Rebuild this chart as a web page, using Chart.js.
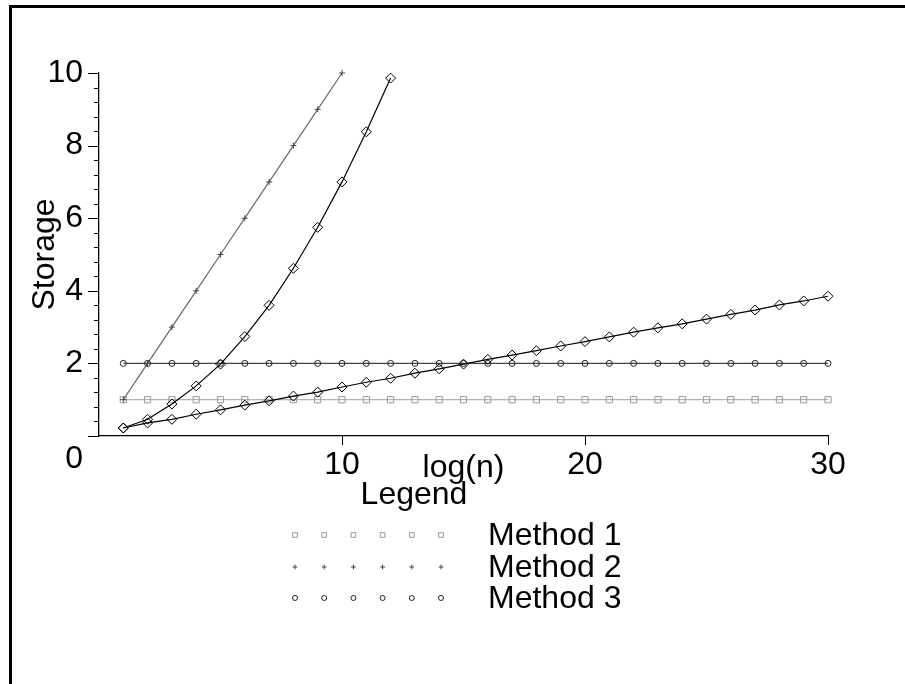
<!DOCTYPE html>
<html>
<head>
<meta charset="utf-8">
<script src="https://cdn.jsdelivr.net/npm/chart.js@4/dist/chart.umd.min.js"></script>
<style>
  html, body { margin: 0; padding: 0; background: #fff; }
  #frame { position: absolute; left: 9px; top: 5px; width: 900px; height: 690px; border-top: 3px solid #000; border-left: 3px solid #000; }
  #plot { position: absolute; left: 0; top: 0; }
</style>
</head>
<body>
<div id="frame"></div>
<canvas id="plot" width="905" height="684"></canvas>
<script>
// ── Storage vs log(n) ──
const FONT = "'Liberation Sans', Arial, sans-serif";

const xLong = [1,2,3,4,5,6,7,8,9,10,11,12,13,14,15,16,17,18,19,20,21,22,23,24,25,26,27,28,29,30];
const xTen = [1,2,3,4,5,6,7,8,9,10];
const xTwelve = [1,2,3,4,5,6,7,8,9,10,11,12];

const method1 = [1,1,1,1,1,1,1,1,1,1,1,1,1,1,1,1,1,1,1,1,1,1,1,1,1,1,1,1,1,1];
const method2 = [1,2,3,4,5,6,7,8,9,10];
const method3 = [2,2,2,2,2,2,2,2,2,2,2,2,2,2,2,2,2,2,2,2,2,2,2,2,2,2,2,2,2,2];
const steepCurve = [0.22,0.46,0.88,1.38,1.98,2.74,3.6,4.62,5.75,7.0,8.38,9.86];
const slowCurve = [0.22,0.36,0.46,0.6,0.72,0.85,0.97,1.1,1.21,1.35,1.48,1.59,1.73,1.85,1.98,2.11,2.23,2.35,2.48,2.6,2.73,2.86,2.98,3.09,3.22,3.35,3.47,3.61,3.72,3.85];

const yTicks = [0,2,4,6,8,10];
const xTicks = [10,20,30];
const legendNames = ['Method 1','Method 2','Method 3'];

const pts = (xs, ys) => xs.map((x, i) => ({ x, y: ys[i] }));

// tick marks, the lone "0" and the legend block are drawn by hand
const extras = {
  id: 'extras',
  afterDraw(chart) {
    const ctx = chart.ctx;
    const xs = chart.scales.x, ys = chart.scales.y;
    const left = chart.chartArea.left, bottom = chart.chartArea.bottom;
    ctx.save();
    ctx.strokeStyle = '#000';
    ctx.lineWidth = 1;
    ctx.beginPath();
    for (let v = 0; v <= 10.001; v += 0.4) {
      const y = Math.round(ys.getPixelForValue(v)) + 0.5;
      const major = Math.abs(v / 2 - Math.round(v / 2)) < 0.01;
      ctx.moveTo(left - (major ? 11 : 5), y);
      ctx.lineTo(left, y);
    }
    xTicks.forEach(v => {
      const x = Math.round(xs.getPixelForValue(v)) + 0.5;
      ctx.moveTo(x, bottom);
      ctx.lineTo(x, bottom + 9);
    });
    ctx.stroke();

    ctx.fillStyle = '#000';
    ctx.font = '32px ' + FONT;
    ctx.textBaseline = 'middle';
    ctx.textAlign = 'right';
    ctx.fillText('0', 83, 459);

    ctx.textAlign = 'center';
    ctx.fillText('Legend', 414, 495);

    ctx.textAlign = 'left';
    const rows = [535, 567, 598];
    chart.data.datasets.slice(0, 3).forEach((ds, i) => {
      ctx.strokeStyle = ds.pointBorderColor;
      ctx.fillStyle = 'rgba(0,0,0,0)';
      for (let k = 0; k < 6; k++) {
        Chart.helpers.drawPoint(ctx, {
          pointStyle: ds.pointStyle, radius: ds.legendRadius, rotation: 0, borderWidth: 1
        }, 295 + k * 29.2, rows[i]);
      }
      ctx.fillStyle = '#000';
      ctx.fillText(legendNames[i], 488, rows[i] + 1);
    });
    ctx.restore();
  }
};

new Chart(document.getElementById('plot'), {
  type: 'line',
  data: {
    datasets: [
      { label: legendNames[0], data: pts(xLong, method1), borderColor: '#b4b4b4', pointBorderColor: '#999',
        pointStyle: 'rect', pointRadius: 4.4, legendRadius: 3.3, order: 5 },
      { label: legendNames[1], data: pts(xTen, method2), borderColor: '#6a6a6a', pointBorderColor: '#444',
        pointStyle: 'cross', pointRadius: 3, legendRadius: 2.4, order: 4 },
      { label: legendNames[2], data: pts(xLong, method3), borderColor: '#444', pointBorderColor: '#222',
        pointStyle: 'circle', pointRadius: 3, legendRadius: 2.5, order: 3 },
      { label: 'Growth A', data: pts(xTwelve, steepCurve), borderColor: '#000', pointBorderColor: '#000',
        pointStyle: 'rectRot', pointRadius: 5, order: 1 },
      { label: 'Growth B', data: pts(xLong, slowCurve), borderColor: '#000', pointBorderColor: '#000',
        pointStyle: 'rectRot', pointRadius: 5, order: 2 }
    ].map(d => Object.assign({
      borderWidth: 1.2, pointBorderWidth: 1, pointBackgroundColor: 'rgba(0,0,0,0)',
      fill: false, tension: 0, clip: false
    }, d))
  },
  options: {
    responsive: false,
    animation: false,
    events: [],
    layout: { padding: { left: 0, top: 73, right: 77, bottom: 188 } },
    plugins: { legend: { display: false }, tooltip: { enabled: false } },
    scales: {
      x: {
        type: 'linear', min: 0, max: 30,
        afterFit: s => { s.height = 60; },
        afterBuildTicks: s => { s.ticks = xTicks.map(v => ({ value: v })); },
        ticks: { color: '#000', padding: 10, maxRotation: 0, font: { family: FONT, size: 32 } },
        grid: { display: false, drawTicks: false },
        border: { display: true, color: '#000', width: 1.3 },
        title: { display: true, text: 'log(n)', color: '#000', padding: { top: 0, bottom: 9 }, font: { family: FONT, size: 32 } }
      },
      y: {
        min: 0, max: 10,
        afterFit: s => { s.width = 99; },
        afterBuildTicks: s => { s.ticks = yTicks.map(v => ({ value: v })); },
        ticks: { color: '#000', padding: 16, callback: v => v === 0 ? '' : v, font: { family: FONT, size: 32 } },
        grid: { display: false, drawTicks: false },
        border: { display: true, color: '#000', width: 1.3 },
        title: { display: true, text: 'Storage', color: '#000', padding: { top: 26, bottom: 0 }, font: { family: FONT, size: 32 } }
      }
    }
  },
  plugins: [extras]
});
</script>
</body>
</html>
